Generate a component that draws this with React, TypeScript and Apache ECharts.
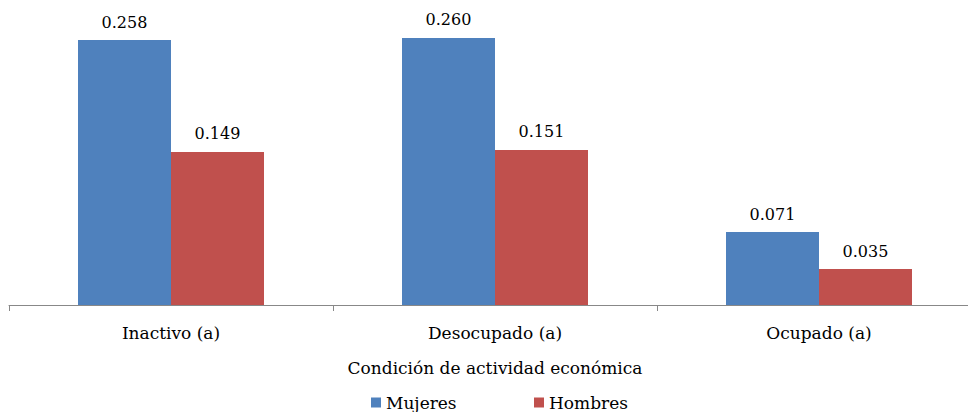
import React, { useEffect, useRef } from "react";
import * as echarts from "echarts";

const categories = ["Inactivo (a)", "Desocupado (a)", "Ocupado (a)"];
const mujeres = [0.258, 0.26, 0.071];
const hombres = [0.149, 0.151, 0.035];
const seriesNames = ["Mujeres", "Hombres"];
const axisTitle = "Condición de actividad económica";

const FONT = "'DejaVu Serif', 'Liberation Serif', serif";

export default function App() {
  const ref = useRef<HTMLDivElement>(null);
  useEffect(() => {
    if (!ref.current) return;
    const chart = echarts.init(ref.current, null, { renderer: "svg" });
    const label = {
      show: true,
      position: "top" as const,
      distance: 10,
      color: "#000",
      fontFamily: FONT,
      fontSize: 16,
      formatter: (p: any) => p.value.toFixed(3),
    };
    const legendText = { fontFamily: FONT, fontSize: 17, color: "#000" };
    chart.setOption({
      animation: false,
      textStyle: { fontFamily: FONT },
      grid: { left: 9, right: 19, top: 0, bottom: 107, containLabel: false },
      legend: [
        {
          top: 394,
          left: 371,
          padding: 0,
          itemWidth: 10,
          itemHeight: 10,
          itemGap: 5,
          icon: "rect",
          textStyle: legendText,
          data: [seriesNames[0]],
        },
        {
          top: 394,
          left: 534,
          padding: 0,
          itemWidth: 10,
          itemHeight: 10,
          itemGap: 5,
          icon: "rect",
          textStyle: legendText,
          data: [seriesNames[1]],
        },
      ],
      xAxis: {
        type: "category",
        data: categories,
        name: axisTitle,
        nameLocation: "middle",
        nameGap: 54,
        nameTextStyle: { fontFamily: FONT, fontSize: 17, color: "#000" },
        axisLine: { lineStyle: { color: "#888", width: 1 } },
        axisTick: { show: true, length: 6, lineStyle: { color: "#888" } },
        axisLabel: { fontFamily: FONT, fontSize: 17, color: "#000", margin: 19 },
      },
      yAxis: {
        type: "value",
        min: 0,
        max: 0.297,
        show: false,
        splitLine: { show: false },
      },
      series: [
        {
          name: seriesNames[0],
          type: "bar",
          data: mujeres,
          barWidth: 93,
          barGap: "0%",
          itemStyle: { color: "#4F81BD" },
          label,
        },
        {
          name: seriesNames[1],
          type: "bar",
          data: hombres,
          barWidth: 93,
          itemStyle: { color: "#C0504D" },
          label,
        },
      ],
    });
    return () => chart.dispose();
  }, []);
  return (
    <div
      style={{
        position: "absolute",
        left: 0,
        top: 0,
        width: 968,
        height: 412,
        overflow: "hidden",
      }}
    >
      <div ref={ref} style={{ width: 1000, height: 412 }} />
    </div>
  );
}
